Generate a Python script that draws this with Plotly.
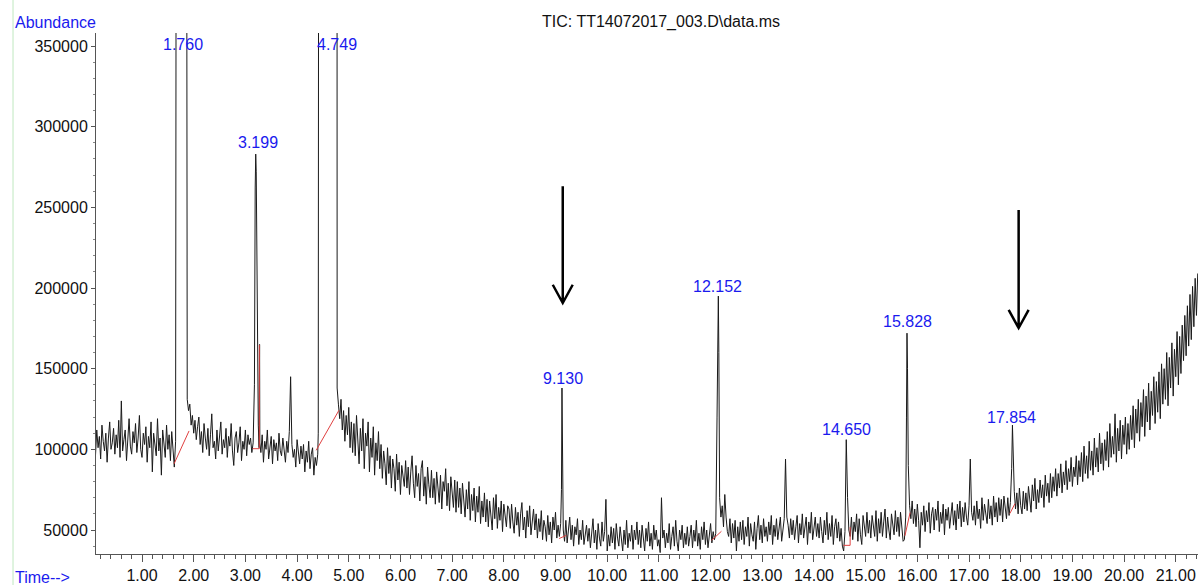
import numpy as np
import plotly.graph_objects as go

# ---------------- data (abundance in thousands) ----------------
scan_start_min = 0.10
scan_interval_min = 0.025
base_abund_k = [
    96, 112, 101, 108, 94, 115, 105, 99, 110, 92, 107, 117, 100, 104, 113, 97, 109, 101, 118, 95,      # 0.100-0.575
    130, 99, 106, 112, 93, 108, 119, 102, 97, 111, 104, 116, 98, 107, 121, 100, 95, 110, 103, 114,     # 0.600-1.075
    92, 108, 101, 117, 86, 110, 104, 96, 119, 99, 107, 84, 112, 102, 95, 115, 100, 109, 93, 111,       # 1.100-1.575
    97, 89, 105, 900, 900, 900, 900, 900, 900, 900, 900, 131, 124, 128, 115, 121, 110, 118, 106, 114,  # 1.600-2.075
    120, 103, 111, 98, 116, 107, 100, 113, 96, 109, 122, 101, 105, 94, 112, 99, 108, 117, 97, 106,     # 2.100-2.575
    101, 113, 95, 108, 102, 116, 99, 90, 107, 111, 98, 104, 114, 93, 105, 100, 112, 96, 109, 103,      # 2.600-3.075
    107, 98, 104, 140, 283, 200, 115, 165, 98, 109, 92, 105, 100, 112, 94, 103, 108, 91, 106, 99,      # 3.100-3.575
    104, 93, 110, 99, 96, 107, 101, 92, 105, 98, 111, 145, 103, 95, 100, 89, 106, 97, 91, 102,         # 3.600-4.075
    94, 103, 86, 99, 92, 105, 88, 97, 101, 84, 95, 90, 97, 900, 900, 900, 900, 900, 900, 900,          # 4.100-4.575
    900, 900, 900, 900, 900, 900, 900, 138, 128, 119, 131, 112, 124, 105, 121, 109, 126, 101, 117, 98,  # 4.600-5.075
    116, 96, 121, 104, 91, 113, 99, 119, 88, 110, 102, 117, 86, 107, 95, 114, 84, 104, 93, 111,        # 5.100-5.575
    88, 103, 82, 99, 91, 78, 101, 85, 96, 76, 94, 88, 74, 97, 81, 92, 72, 90, 84, 77,                  # 5.600-6.075
    93, 76, 89, 72, 86, 96, 79, 70, 90, 77, 85, 68, 88, 93, 71, 83, 66, 89, 78, 70,                    # 6.100-6.575
    87, 70, 82, 66, 86, 78, 67, 84, 63, 80, 74, 88, 65, 79, 62, 83, 72, 64, 81, 61,                    # 6.600-7.075
    80, 64, 76, 60, 79, 69, 58, 75, 63, 80, 56, 72, 62, 76, 55, 71, 61, 77, 54, 68,                    # 7.100-7.575
    58, 73, 55, 69, 52, 68, 61, 50, 70, 57, 72, 51, 64, 56, 68, 49, 66, 59, 52, 65,                    # 7.600-8.075
    63, 51, 66, 55, 48, 64, 53, 61, 46, 60, 67, 50, 58, 45, 62, 52, 65, 47, 57, 63,                    # 8.100-8.575
    50, 60, 45, 57, 49, 62, 44, 56, 52, 43, 59, 47, 55, 42, 58, 50, 61, 45, 53, 46,                    # 8.600-9.075
    54, 138, 50, 43, 56, 42, 49, 58, 44, 53, 40, 52, 47, 57, 41, 50, 44, 56, 41, 49,                   # 9.100-9.575
    53, 43, 51, 39, 48, 57, 42, 50, 38, 54, 45, 40, 55, 43, 49, 69, 37, 47, 40, 52,                    # 9.600-10.075
    42, 51, 38, 54, 45, 40, 52, 44, 37, 50, 41, 56, 39, 48, 43, 53, 38, 50, 44, 55,                    # 10.100-10.575
    41, 50, 39, 53, 46, 37, 51, 43, 55, 40, 48, 38, 53, 44, 50, 40, 44, 36, 70, 45,                    # 10.600-11.075
    50, 39, 48, 42, 54, 38, 46, 52, 40, 56, 43, 37, 50, 44, 53, 39, 48, 41, 52, 40,                    # 11.100-11.575
    46, 53, 39, 50, 43, 56, 40, 48, 38, 52, 44, 55, 41, 50, 39, 47, 54, 42, 49, 44,                    # 11.600-12.075
    48, 120, 195, 70, 58, 65, 52, 72, 58, 49, 46, 57, 42, 54, 45, 56, 37, 52, 43, 55,                  # 12.100-12.575
    44, 56, 41, 52, 46, 58, 40, 54, 47, 43, 55, 38, 51, 59, 44, 53, 42, 57, 46, 52,                    # 12.600-13.075
    43, 55, 47, 59, 41, 53, 46, 57, 44, 52, 58, 43, 50, 57, 94, 58, 53, 45, 57, 47,                    # 13.100-13.575
    56, 44, 52, 59, 42, 54, 47, 60, 45, 51, 58, 41, 55, 48, 61, 44, 52, 58, 46, 54,                    # 13.600-14.075
    45, 58, 49, 42, 56, 47, 61, 44, 54, 46, 59, 41, 52, 57, 45, 55, 43, 51, 40, 37,                    # 14.100-14.575
    49, 106, 70, 50, 46, 58, 44, 55, 49, 60, 43, 57, 47, 41, 59, 50, 46, 61, 48, 56,                   # 14.600-15.075
    45, 59, 52, 46, 62, 43, 57, 48, 61, 46, 55, 63, 45, 58, 50, 44, 60, 54, 47, 62,                    # 15.100-15.575
    49, 58, 46, 61, 52, 43, 44, 58, 172, 90, 65, 57, 68, 54, 63, 52, 66, 56, 39, 61,                   # 15.600-16.075
    53, 65, 49, 62, 55, 67, 48, 60, 64, 50, 63, 56, 68, 49, 61, 54, 66, 47, 63, 56,                    # 16.100-16.575
    64, 51, 61, 67, 53, 62, 50, 66, 57, 68, 52, 64, 55, 67, 58, 53, 65, 94, 61, 56,                    # 16.600-17.075
    65, 53, 68, 57, 63, 51, 70, 56, 66, 59, 54, 69, 57, 65, 53, 71, 58, 67, 55, 70,                    # 17.100-17.575
    59, 69, 55, 71, 62, 57, 70, 59, 67, 88, 100, 74, 63, 73, 60, 76, 65, 60, 74, 63,                   # 17.600-18.075
    73, 62, 77, 66, 61, 78, 68, 82, 63, 75, 67, 81, 70, 78, 64, 84, 71, 79, 67, 85,                    # 18.100-18.575
    70, 83, 74, 88, 71, 85, 76, 91, 73, 86, 78, 93, 75, 88, 80, 95, 77, 89, 83, 96,                    # 18.600-19.075
    78, 93, 83, 98, 80, 102, 85, 96, 82, 105, 87, 99, 84, 107, 89, 101, 86, 110, 91, 104,              # 19.100-19.575
    87, 106, 93, 111, 89, 116, 95, 108, 97, 122, 92, 113, 99, 118, 94, 115, 103, 120, 97, 116,         # 19.600-20.075
    100, 121, 106, 127, 101, 125, 110, 131, 105, 129, 114, 137, 108, 133, 117, 141, 112, 136, 121, 145,  # 20.100-20.575
    116, 142, 123, 148, 119, 153, 128, 150, 131, 160, 127, 157, 138, 166, 133, 162, 145, 173, 140, 170,  # 20.600-21.075
    147, 177, 155, 183, 158, 189, 164, 196, 168, 201, 176, 206, 183, 209,                              # 21.100-21.425
]

# extra scans inside the sharp peaks
peak_times = [3.19, 3.21, 3.265, 3.28, 4.41, 4.415, 4.772, 9.115, 9.135,
              12.14, 12.16, 14.615, 15.79, 15.81, 17.84]
peak_abund_k = [262, 272, 101, 104, 110, 800, 800, 75, 80,
                190, 160, 80, 120, 150, 115]

# integration baselines (red), segments separated by None
baseline_times = [1.62, 1.91, None, 3.14, 3.27, 3.27, None, 4.37, 4.81, None,
                  9.07, 9.21, None, 12.02, 12.21, None, 14.57, 14.70, 14.70, None,
                  15.76, 15.86, None, 17.79, 17.89]
baseline_abund_k = [91, 111.4, None, 100.4, 100.4, 164.7, None, 99.4, 124.2, None,
                    44.7, 46.7, None, 43.6, 49.2, None, 40.5, 40.5, 51.8, None,
                    46.4, 60.8, None, 60.2, 66.4]

# peak labels
label_texts = ["1.760", "3.199", "4.749", "9.130", "12.152", "14.650", "15.828", "17.854"]
label_times = [1.79, 3.235, 4.78, 9.14, 12.13, 14.62, 15.81, 17.83]
label_abund = [351000, 290200, 351000, 144200, 201200, 112000, 179500, 120000]

# arrows
arrow_times = [9.14, 17.96]
arrow_top = [263000, 248400]
arrow_tip = [190700, 175200]

# ---------------- build ----------------
base_times = np.round(scan_start_min + scan_interval_min * np.arange(len(base_abund_k)), 4)
t_all = np.concatenate([base_times, np.array(peak_times)])
a_all = np.concatenate([np.array(base_abund_k, float), np.array(peak_abund_k, float)]) * 1000
order = np.argsort(t_all, kind="stable")
t_all = t_all[order]
a_all = a_all[order]

fig = go.Figure()
fig.add_trace(go.Scatter(x=t_all, y=a_all, mode="lines",
                         line=dict(color="#1a1a1a", width=1), hoverinfo="skip"))
fig.add_trace(go.Scatter(x=baseline_times,
                         y=[v * 1000 if v is not None else None for v in baseline_abund_k],
                         mode="lines", line=dict(color="#e04040", width=1),
                         connectgaps=False, hoverinfo="skip"))

FONT = "Liberation Sans, Arial, sans-serif"
BLUE = "#1a1aee"

for txt, x, y in zip(label_texts, label_times, label_abund):
    fig.add_annotation(x=x, y=y, text=txt, showarrow=False, xanchor="center",
                       yanchor="middle", font=dict(family=FONT, size=16, color=BLUE))

hw, hh = 0.193, 11300
for x, top, tip in zip(arrow_times, arrow_top, arrow_tip):
    path = (f"M {x},{top} L {x},{tip} M {x - hw},{tip + hh} L {x},{tip} L {x + hw},{tip + hh}")
    fig.add_shape(type="path", path=path, xref="x", yref="y",
                  line=dict(color="black", width=2.5))

# light green left rule
fig.add_shape(type="line", xref="paper", yref="paper", x0=-0.0753, x1=-0.0753,
              y0=-0.06, y1=1.07, line=dict(color="#bfe8bf", width=1))

fig.add_annotation(xref="paper", yref="paper", x=-0.0753, y=1.021, text="Abundance",
                   showarrow=False, xanchor="left", yanchor="middle",
                   font=dict(family=FONT, size=16, color=BLUE))
fig.add_annotation(xref="paper", yref="paper", x=-0.0753, y=-0.046, text="Time-->",
                   showarrow=False, xanchor="left", yanchor="middle",
                   font=dict(family=FONT, size=16, color=BLUE))
fig.add_annotation(xref="paper", yref="paper", x=0.5127, y=1.021,
                   text="TIC: TT14072017_003.D\\data.ms",
                   showarrow=False, xanchor="center", yanchor="middle",
                   font=dict(family=FONT, size=16, color="#111"))

fig.update_layout(
    width=1198, height=585,
    margin=dict(l=96, r=0, t=33, b=31),
    paper_bgcolor="white", plot_bgcolor="white",
    showlegend=False,
    font=dict(family=FONT, size=16, color="#111"),
    xaxis=dict(range=[0.11, 21.43], dtick=1, tick0=0, tickformat=".2f",
               ticks="outside", ticklen=7, tickcolor="#555", showgrid=False,
               zeroline=False, showline=True, linecolor="#555", linewidth=1,
               minor=dict(dtick=0.2, ticks="outside", ticklen=4, tickcolor="#555"),
               tickfont=dict(family=FONT, size=16, color="#111")),
    yaxis=dict(range=[35125, 358057], tickvals=[50000, 100000, 150000, 200000, 250000, 300000, 350000],
               tickformat="d", ticks="outside", ticklen=4, tickcolor="#555",
               showgrid=False, zeroline=False, showline=True, linecolor="#555", linewidth=1,
               minor=dict(dtick=10000, ticks="outside", ticklen=2, tickcolor="#888"),
               tickfont=dict(family=FONT, size=16, color="#111")),
)

fig.write_html("out.html")
